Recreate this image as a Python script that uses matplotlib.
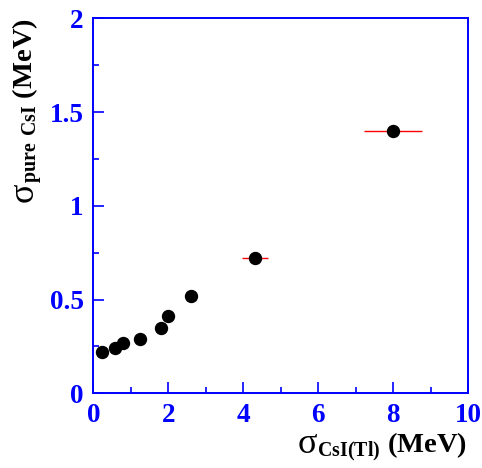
import matplotlib
matplotlib.use("Agg")
import matplotlib.pyplot as plt
from matplotlib.ticker import MultipleLocator

# resolution values (MeV)
sigma_csi_tl = [0.24, 0.59, 0.80, 1.25, 1.81, 2.00, 2.61, 4.31, 8.00]
sigma_pure_csi = [0.22, 0.24, 0.27, 0.29, 0.35, 0.41, 0.52, 0.72, 1.40]
x_err = [0.0, 0.0, 0.0, 0.0, 0.0, 0.0, 0.0, 0.34, 0.77]

plt.rcParams["font.family"] = ["Liberation Serif", "DejaVu Serif"]
plt.rcParams["font.weight"] = "bold"
plt.rcParams["mathtext.fontset"] = "custom"
plt.rcParams["mathtext.rm"] = "Liberation Serif:bold"
plt.rcParams["mathtext.bf"] = "Liberation Serif:bold"

blue = "#0000ff"
W, H = 482, 468

fig = plt.figure(figsize=(W / 100, H / 100), dpi=100)
ax = fig.add_axes([0.1936, 0.1596, 0.778, 0.8013])

ax.errorbar(sigma_csi_tl, sigma_pure_csi, xerr=x_err, fmt="o", color="black",
            ecolor="red", elinewidth=1.0, capsize=0, markersize=8.6, zorder=3)

ax.set_xlim(0, 10)
ax.set_ylim(0, 2)
ax.xaxis.set_minor_locator(MultipleLocator(1))
ax.yaxis.set_minor_locator(MultipleLocator(0.25))
ax.set_xticks([0, 2, 4, 6, 8, 10], ["0", "2", "4", "6", "8", "10"])
ax.set_yticks([0, 0.5, 1, 1.5, 2], ["0", "0.5", "1", "1.5", "2"])

for s in ax.spines.values():
    s.set_color(blue)
    s.set_linewidth(1.4)
ax.tick_params(which="both", direction="in", colors=blue, width=1.2,
               labelsize=19.5, top=False, right=False)
ax.tick_params(which="major", length=8, pad=7)
ax.tick_params(which="minor", length=4)
for lab in ax.get_xticklabels() + ax.get_yticklabels():
    lab.set_fontweight("bold")
    lab.set_color(blue)

# axis titles: big plain sigma + bold subscript and unit
renderer = fig.canvas.get_renderer()

xl = fig.text(467 / W, 1 - 453 / H, r"$_{\mathregular{CsI(Tl)}}$ (MeV)",
              ha="right", va="baseline", fontsize=20.5, fontweight="bold")
bb = xl.get_window_extent(renderer)
fig.text(bb.x0 / W, 1 - 453 / H, "σ", ha="right", va="baseline",
         fontsize=26, fontweight="normal")

yl = fig.text(33 / W, 1 - 18 / H, r"$_{\mathregular{pure\ CsI}}$ (MeV)",
              ha="right", va="baseline", rotation=90, rotation_mode="anchor",
              fontsize=20.5, fontweight="bold")
bb = yl.get_window_extent(renderer)
fig.text(33 / W, bb.y0 / H, "σ", ha="right", va="baseline", rotation=90,
         rotation_mode="anchor", fontsize=26, fontweight="normal")

fig.savefig("out.png", dpi=100)
